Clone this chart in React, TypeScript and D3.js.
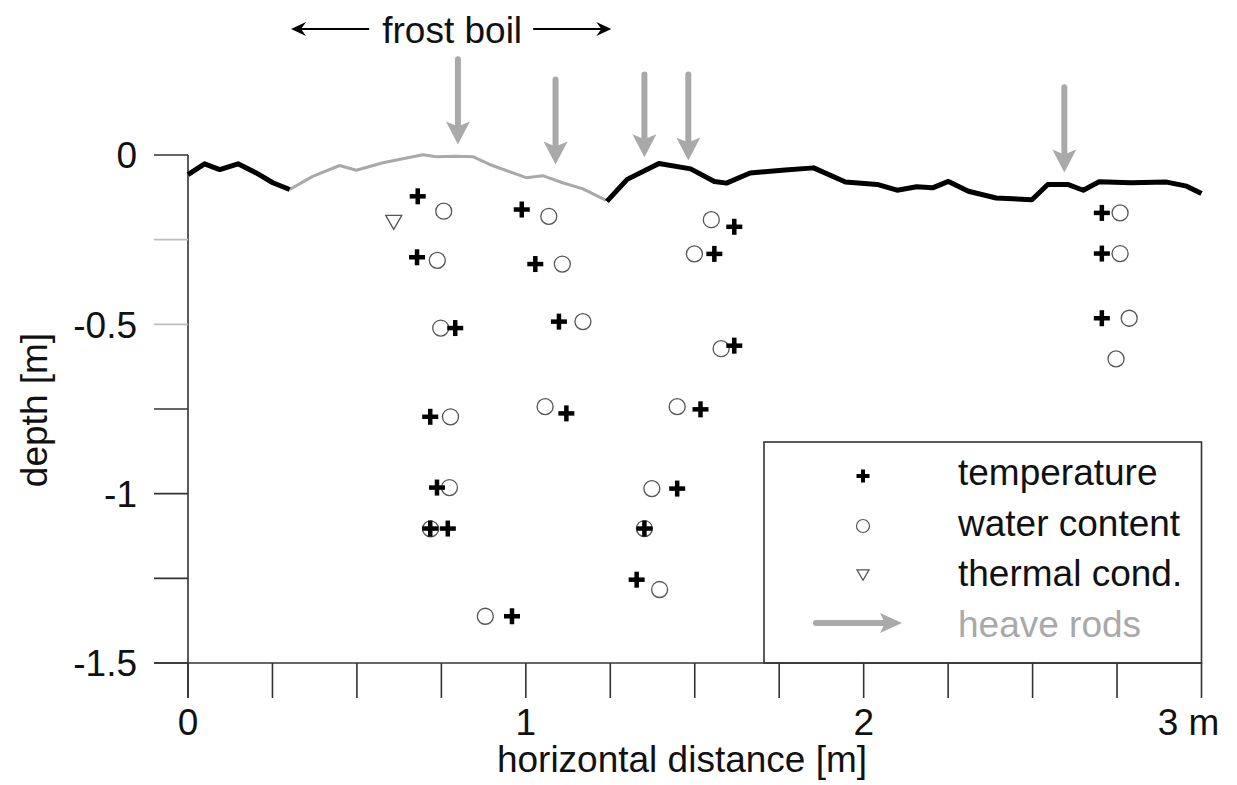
import React from "react";
import * as d3 from "d3";

// ---------- data ----------
// ground surface profile [horizontal distance m, depth m]
const profileLeft: [number, number][] = [
  [0.0, -0.058], [0.049, -0.026], [0.094, -0.043], [0.148, -0.026],
  [0.202, -0.053], [0.251, -0.082], [0.301, -0.102],
];
const profileBoil: [number, number][] = [
  [0.301, -0.102], [0.369, -0.063], [0.449, -0.031], [0.498, -0.045],
  [0.577, -0.023], [0.695, 0.001], [0.735, -0.005], [0.794, -0.004],
  [0.843, -0.005], [0.893, -0.028], [1.001, -0.067], [1.05, -0.061],
  [1.109, -0.082], [1.169, -0.1], [1.238, -0.134],
];
const profileRight: [number, number][] = [
  [1.24, -0.137], [1.3, -0.072], [1.394, -0.025], [1.488, -0.041],
  [1.558, -0.078], [1.594, -0.083], [1.664, -0.053], [1.758, -0.045],
  [1.852, -0.038], [1.946, -0.08], [2.04, -0.087], [2.099, -0.104],
  [2.157, -0.094], [2.204, -0.097], [2.251, -0.078], [2.31, -0.107],
  [2.392, -0.127], [2.498, -0.132], [2.545, -0.087], [2.604, -0.087],
  [2.65, -0.104], [2.697, -0.079], [2.791, -0.082], [2.897, -0.08],
  [2.956, -0.092], [3.0, -0.114],
];

// sensor positions
const temperatureX = [0.68, 0.678, 0.791, 0.717, 0.737, 0.769, 0.717, 0.988, 1.028, 1.098, 1.12, 0.959, 1.351, 1.328, 1.617, 1.558, 1.617, 1.517, 1.448, 2.705, 2.705, 2.705];
const temperatureD = [-0.122, -0.302, -0.511, -0.773, -0.982, -1.103, -1.103, -0.161, -0.322, -0.492, -0.763, -1.362, -1.103, -1.254, -0.212, -0.292, -0.563, -0.751, -0.985, -0.171, -0.291, -0.482];

const waterX = [0.757, 0.738, 0.748, 0.777, 0.774, 0.718, 1.068, 1.108, 1.169, 1.057, 0.88, 1.351, 1.396, 1.549, 1.499, 1.578, 1.448, 1.373, 2.759, 2.759, 2.786, 2.747];
const waterD = [-0.166, -0.311, -0.511, -0.773, -0.982, -1.104, -0.181, -0.322, -0.492, -0.743, -1.362, -1.103, -1.283, -0.191, -0.292, -0.572, -0.743, -0.985, -0.171, -0.291, -0.482, -0.602];

const thermalX = [0.609];
const thermalD = [-0.199];

// heave rods
const rodX = [0.799, 1.088, 1.351, 1.481, 2.594];
const rodTop = [0.283, 0.223, 0.238, 0.238, 0.2];
const rodTip = [0.031, -0.028, -0.007, -0.016, -0.052];

const frostBoil = [0.305, 1.253];
const frostBoilLabel = "frost boil";

const xTickValues = [0, 0.25, 0.5, 0.75, 1, 1.25, 1.5, 1.75, 2, 2.25, 2.5, 2.75, 3];
const xTickLabels = ["0", "1", "2", "3 m"];
const xLabelValues = [0, 1, 2, 3];
const yTickValues = [0, -0.25, -0.5, -0.75, -1, -1.25, -1.5];
const yLabelValues = [0, -0.5, -1, -1.5];
const yTickLabels = ["0", "-0.5", "-1", "-1.5"];
const yTickGray = [-0.25, -0.5];

const legendLabels = ["temperature", "water content", "thermal cond.", "heave rods"];

// ---------- layout ----------
const W = 1237;
const H = 785;
const FONT = "'Liberation Sans', Arial, Helvetica, sans-serif";
const FS = 37;
const GRAY = "#a9a9a9";
const AXIS = "#333";

const x = d3.scaleLinear().domain([0, 3]).range([188, 1201.5]);
const y = d3.scaleLinear().domain([0, -1.5]).range([155, 663]);

const line = d3
  .line<[number, number]>()
  .x((d) => x(d[0]))
  .y((d) => y(d[1]))
  .curve(d3.curveLinear);

function Plus({ cx, cy, s, w }: { cx: number; cy: number; s: number; w: number }) {
  return (
    <g stroke="#000" strokeWidth={w} strokeLinecap="butt">
      <line x1={cx - s / 2} x2={cx + s / 2} y1={cy} y2={cy} />
      <line x1={cx} x2={cx} y1={cy - s / 2} y2={cy + s / 2} />
    </g>
  );
}

function Tri({ cx, cy, s }: { cx: number; cy: number; s: number }) {
  const h = s * 0.87;
  return (
    <path
      d={`M${cx - s / 2},${cy - h / 2} L${cx + s / 2},${cy - h / 2} L${cx},${cy + h / 2} Z`}
      fill="none"
      stroke="#555"
      strokeWidth={1.3}
    />
  );
}

function DownArrow({ cx, top, tip }: { cx: number; top: number; tip: number }) {
  const hl = 23;
  const hw = 12;
  return (
    <g>
      <line x1={cx} x2={cx} y1={top} y2={tip - hl + 4} stroke={GRAY} strokeWidth={6} strokeLinecap="round" />
      <path
        d={`M${cx},${tip} L${cx - hw},${tip - hl} L${cx},${tip - hl + 5} L${cx + hw},${tip - hl} Z`}
        fill={GRAY}
      />
    </g>
  );
}

export default function App() {
  const boilY = 29;
  const boilL = x(frostBoil[0]);
  const boilR = x(frostBoil[1]);
  const boilC = (boilL + boilR) / 2;

  const legX = 764;
  const legTop = 442;
  const legRight = 1201.5;
  const legMarkX = 863;
  const legTextX = 958;
  const legRowBase = [485, 536, 586, 637];

  return (
    <svg
      width={W}
      height={H}
      style={{ position: "absolute", left: 0, top: 0, background: "#fff", display: "block" }}
      fontFamily={FONT}
    >
      <rect x={0} y={0} width={W} height={H} fill="#fff" />

      {/* legend box */}
      <rect x={legX} y={legTop} width={legRight - legX} height={y(-1.5) - legTop} fill="#fff" stroke={AXIS} strokeWidth={1.6} />

      {/* axes */}
      <line x1={x(0)} x2={x(0)} y1={y(0)} y2={y(-1.5) + 35} stroke={AXIS} strokeWidth={1.6} />
      <line x1={154} x2={x(3)} y1={y(-1.5)} y2={y(-1.5)} stroke={AXIS} strokeWidth={1.6} />
      {yTickValues.map((v) => (
        <line
          key={"yt" + v}
          x1={154}
          x2={x(0)}
          y1={y(v)}
          y2={y(v)}
          stroke={yTickGray.includes(v) ? "#bdbdbd" : AXIS}
          strokeWidth={1.6}
        />
      ))}
      {xTickValues.map((v) => (
        <line key={"xt" + v} x1={x(v)} x2={x(v)} y1={y(-1.5)} y2={y(-1.5) + 35} stroke={AXIS} strokeWidth={1.6} />
      ))}
      {yLabelValues.map((v, i) => (
        <text key={"yl" + v} x={137} y={y(v)} dy="0.36em" textAnchor="end" fontSize={FS} fill="#111">
          {yTickLabels[i]}
        </text>
      ))}
      {xLabelValues.map((v, i) => (
        <text
          key={"xl" + v}
          x={x(v)}
          dx={i === xLabelValues.length - 1 ? -13 : 0}
          y={735}
          textAnchor="middle"
          fontSize={FS}
          fill="#111"
        >
          {xTickLabels[i]}
        </text>
      ))}
      <text x={682} y={772} textAnchor="middle" fontSize={FS} fill="#111">
        horizontal distance [m]
      </text>
      <text transform={`translate(47,410) rotate(-90)`} textAnchor="middle" fontSize={FS} fill="#111">
        depth [m]
      </text>

      {/* ground profile */}
      <path d={line(profileBoil) || ""} fill="none" stroke={GRAY} strokeWidth={3} strokeLinejoin="round" />
      <path d={line(profileLeft) || ""} fill="none" stroke="#000" strokeWidth={5} strokeLinejoin="round" />
      <path d={line(profileRight) || ""} fill="none" stroke="#000" strokeWidth={5} strokeLinejoin="round" />

      {/* heave rods */}
      {rodX.map((v, i) => (
        <DownArrow key={"rod" + i} cx={x(v)} top={y(rodTop[i])} tip={y(rodTip[i])} />
      ))}

      {/* frost boil annotation */}
      <g stroke="#000" strokeWidth={2.2}>
        <line x1={boilL + 6} x2={boilC - 82} y1={boilY} y2={boilY} />
        <line x1={boilC + 82} x2={boilR - 6} y1={boilY} y2={boilY} />
      </g>
      <path d={`M${boilL},${boilY} L${boilL + 15},${boilY - 7} L${boilL + 10},${boilY} L${boilL + 15},${boilY + 7} Z`} fill="#000" />
      <path d={`M${boilR},${boilY} L${boilR - 15},${boilY - 7} L${boilR - 10},${boilY} L${boilR - 15},${boilY + 7} Z`} fill="#000" />
      <text x={boilC + 1} y={43} textAnchor="middle" fontSize={FS} fill="#111">
        {frostBoilLabel}
      </text>

      {/* sensors */}
      {waterX.map((v, i) => (
        <circle key={"w" + i} cx={x(v)} cy={y(waterD[i])} r={8} fill="none" stroke="#555" strokeWidth={1.3} />
      ))}
      {thermalX.map((v, i) => (
        <Tri key={"th" + i} cx={x(v)} cy={y(thermalD[i])} s={16} />
      ))}
      {temperatureX.map((v, i) => (
        <Plus key={"t" + i} cx={x(v)} cy={y(temperatureD[i])} s={16} w={4.5} />
      ))}

      {/* legend */}
      <Plus cx={legMarkX} cy={legRowBase[0] - 9} s={13} w={4} />
      <circle cx={legMarkX} cy={legRowBase[1] - 10} r={6.5} fill="none" stroke="#555" strokeWidth={1.2} />
      <Tri cx={legMarkX} cy={legRowBase[2] - 11} s={12} />
      <line x1={816} x2={888} y1={legRowBase[3] - 14} y2={legRowBase[3] - 14} stroke={GRAY} strokeWidth={6} strokeLinecap="round" />
      <path
        d={`M902,${legRowBase[3] - 14} L880,${legRowBase[3] - 24} L885,${legRowBase[3] - 14} L880,${legRowBase[3] - 4} Z`}
        fill={GRAY}
      />
      {legendLabels.map((t, i) => (
        <text key={t} x={legTextX} y={legRowBase[i]} fontSize={FS} fill={i === 3 ? GRAY : "#111"}>
          {t}
        </text>
      ))}
    </svg>
  );
}
